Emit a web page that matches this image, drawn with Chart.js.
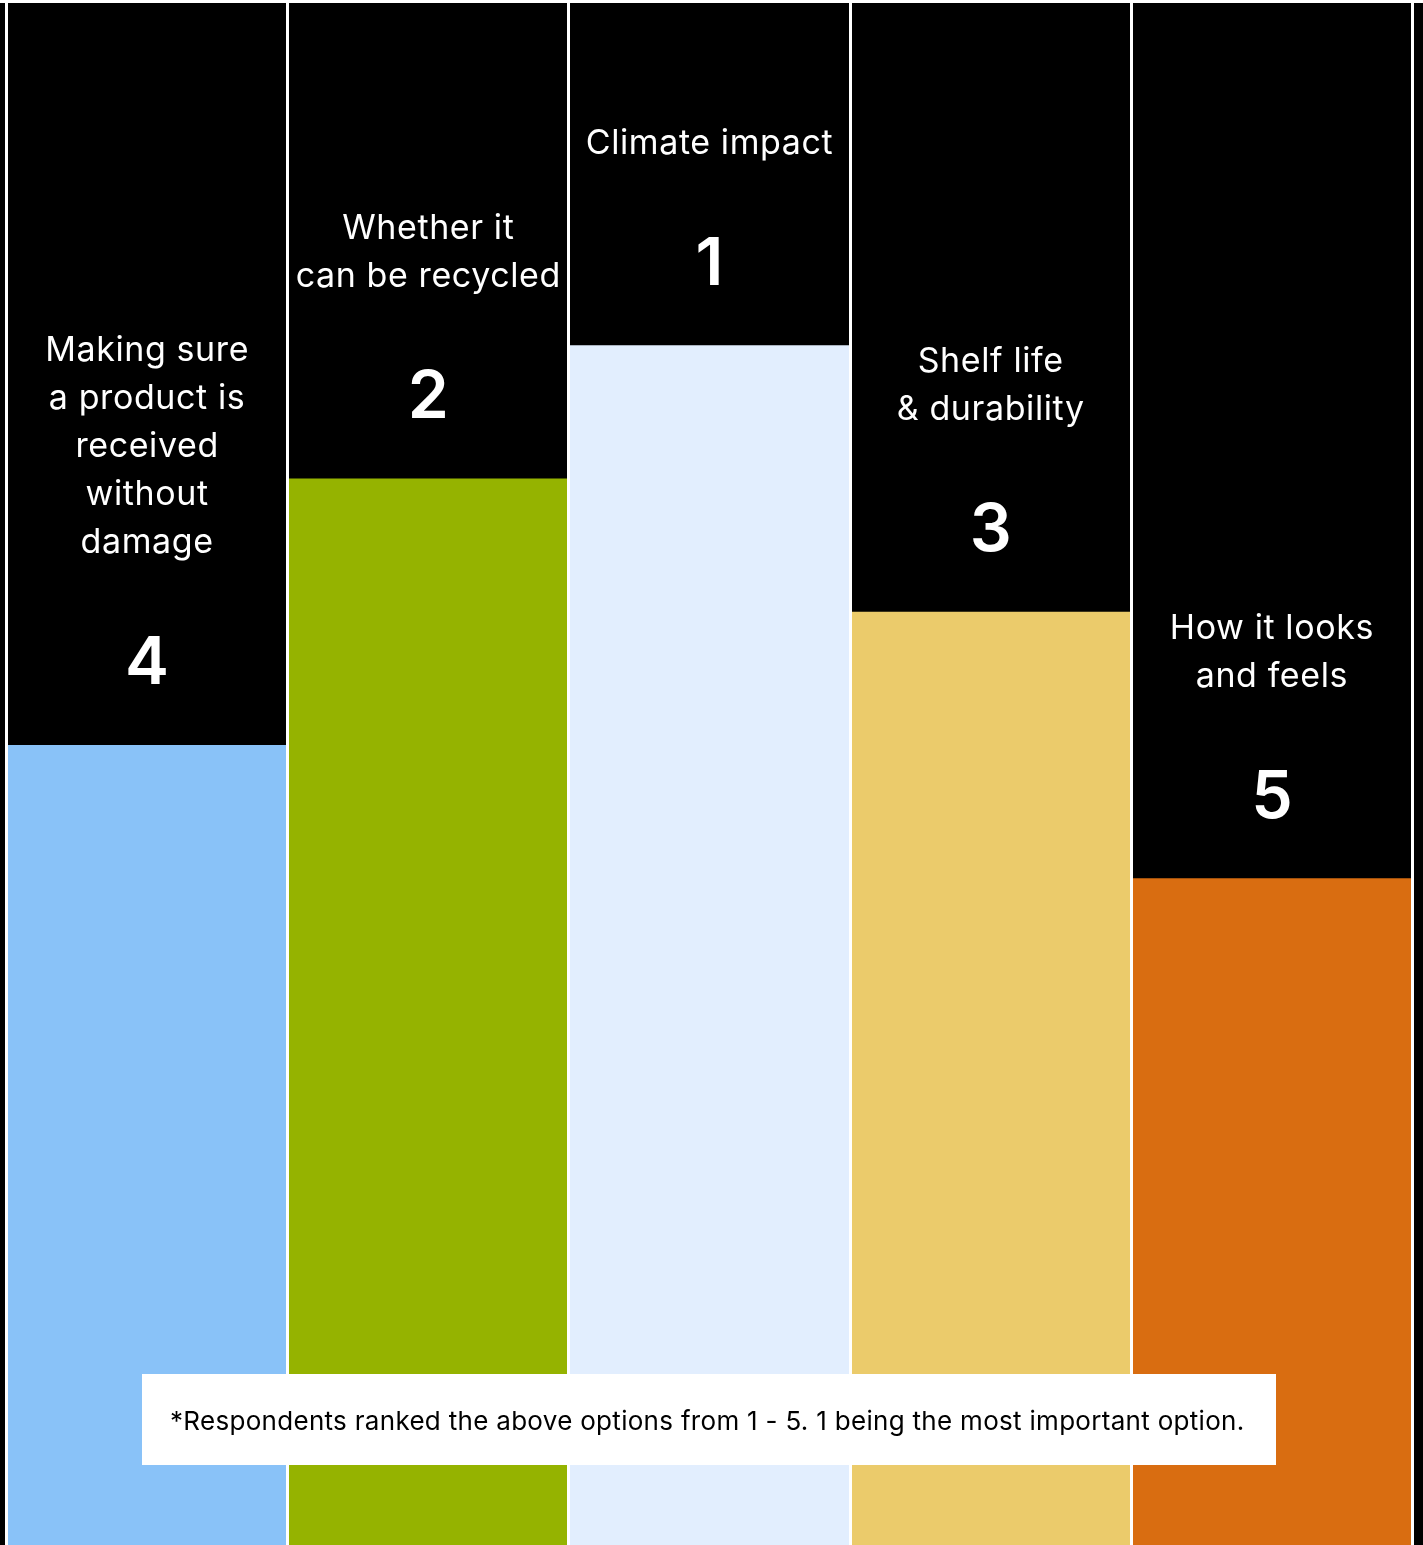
<!DOCTYPE html>
<html>
<head>
<meta charset="utf-8">
<script src="https://cdn.jsdelivr.net/npm/chart.js@4"></script>
<style>
  html, body { margin: 0; padding: 0; background: #000; overflow: hidden; }
  #wrap { width: 1423px; height: 1545px; }
</style>
</head>
<body>
<div id="wrap"><canvas id="rankChart" width="1423" height="1545"></canvas></div>
<script>
// categories (each one already split into the lines shown on the chart)
const categories = [
    ['Making sure', 'a product is', 'received', 'without', 'damage'],
    ['Whether it', 'can be recycled'],
    ['Climate impact'],
    ['Shelf life', '& durability'],
    ['How it looks', 'and feels']
];
const ranks = [4, 2, 1, 3, 5];
const scores = [6, 8, 9, 7, 5];
const barColors = ['#89c2f8', '#95b300', '#e2eefe', '#ebcb6b', '#d96d11'];
const footnote = '*Respondents ranked the above options from 1 - 5. 1 being the most important option.';

const FONT = 'Inter, "Noto Sans", sans-serif';

// black page, thin white line on top
const backdrop = {
    id: 'backdrop',
    beforeDraw(chart) {
        const c = chart.ctx;
        c.save();
        c.fillStyle = '#000';
        c.fillRect(0, 0, chart.width, chart.height);
        c.fillStyle = '#fff';
        c.fillRect(0, 0, chart.width, 3);
        c.restore();
    }
};

// labels + rank number above every bar, and the footnote box
const labels = {
    id: 'labels',
    afterDraw(chart) {
        const c = chart.ctx;
        const x = chart.scales.x, y = chart.scales.y;
        c.save();
        c.textAlign = 'center';
        c.textBaseline = 'alphabetic';
        c.fillStyle = '#fff';
        scores.forEach((v, i) => {
            const cx = x.getPixelForValue(i);
            const top = y.getPixelForValue(v);
            const numBase = top - 61;
            c.letterSpacing = '0px';
            c.font = '600 66px ' + FONT;
            c.fillText(String(ranks[i]), cx, numBase);
            c.font = '400 34px ' + FONT;
            c.letterSpacing = '0.6px';
            const lines = categories[i];
            const lastBase = numBase - 131;
            lines.forEach((ln, j) => {
                c.fillText(ln, cx, lastBase - (lines.length - 1 - j) * 48);
            });
        });

        // footnote
        c.fillStyle = '#fff';
        c.fillRect(142, 1374, 1134, 91);
        c.fillStyle = '#000';
        c.font = '400 26px ' + FONT;
        c.textAlign = 'left';
        c.letterSpacing = '0.3px';
        c.fillText(footnote, 170, 1430);
        c.restore();
    }
};

new Chart(document.getElementById('rankChart'), {
    type: 'bar',
    data: {
        labels: categories,
        datasets: [{
            data: scores,
            backgroundColor: barColors,
            borderWidth: 0,
            barPercentage: 1,
            categoryPercentage: 1
        }]
    },
    options: {
        responsive: false,
        animation: false,
        events: [],
        layout: { padding: { left: 6.5, right: 10.5, top: 3, bottom: 0 } },
        plugins: {
            legend: { display: false },
            tooltip: { enabled: false }
        },
        scales: {
            x: {
                offset: true,
                ticks: { display: false, padding: 0 },
                border: { display: false },
                grid: { z: 1, offset: true, color: '#fff', lineWidth: 3, drawTicks: false, tickLength: 0 }
            },
            y: {
                display: false,
                min: 0,
                max: 11.57
            }
        }
    },
    plugins: [backdrop, labels]
});
</script>
</body>
</html>
